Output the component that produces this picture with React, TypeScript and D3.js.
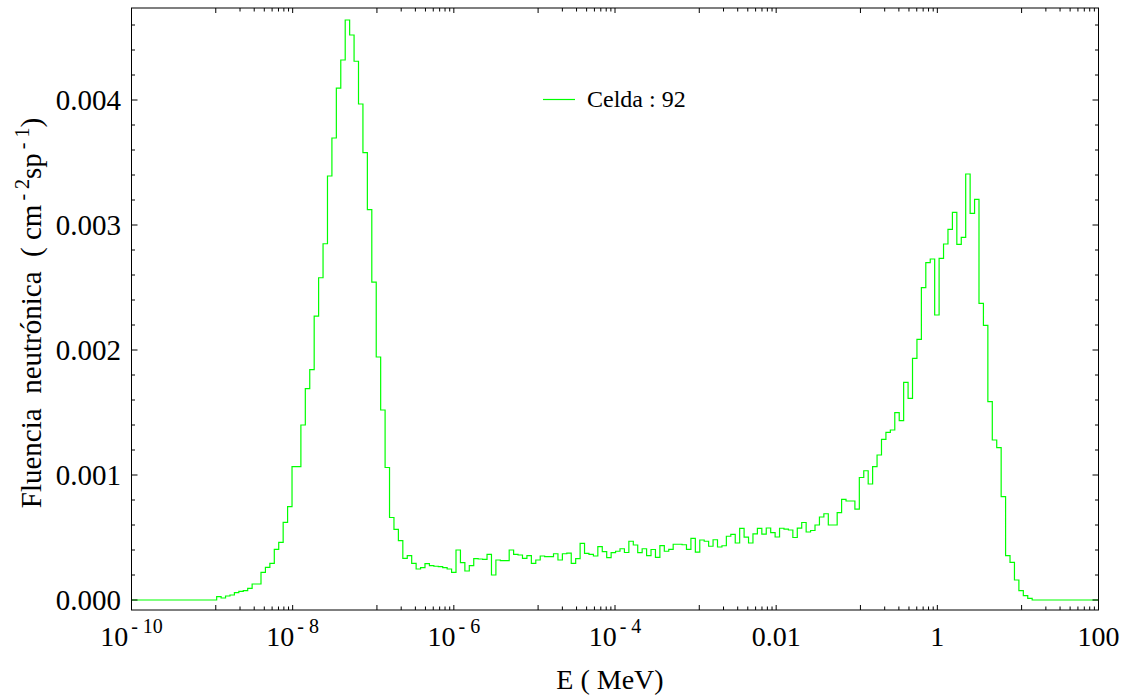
import React from "react";
import * as d3 from "d3";

// ---- data (fluence per energy bin, cm^-2 sp^-1) ----
const thermalPeak = [
  0.000027, 0.000016, 0.000032, 0.00004, 0.000059, 0.000069, 0.000075, 0.000093, 0.000128, 0.000128,
  0.000221, 0.000261, 0.000293, 0.000405, 0.000461, 0.000621, 0.000747, 0.001067, 0.001067, 0.0014,
  0.001691, 0.001843, 0.002271, 0.002578, 0.00285, 0.003392, 0.003696, 0.004095, 0.00432, 0.00464,
  0.00452, 0.00431, 0.003968, 0.003579, 0.003123, 0.002543, 0.001944, 0.00152, 0.00106, 0.00066,
  0.000565, 0.000475, 0.000333, 0.000355, 0.000293, 0.000248,
];
const epithermal = [
  0.000259, 0.000291, 0.000275, 0.00027, 0.000267, 0.000259, 0.000248, 0.000221, 0.0004, 0.000299,
  0.000232, 0.000275, 0.000331, 0.000328, 0.000325, 0.000365, 0.0002, 0.00032, 0.000315, 0.000315,
  0.0004, 0.000365, 0.00036, 0.000333, 0.000355, 0.000293, 0.00032, 0.000352, 0.000347, 0.000347,
  0.00037, 0.00032, 0.00037, 0.000375, 0.000293, 0.000331, 0.000453, 0.000373, 0.000365, 0.000352,
  0.000427, 0.000387, 0.000339, 0.000379, 0.00039, 0.00041, 0.00038, 0.00047, 0.00044, 0.000379,
  0.00041, 0.000355, 0.000404, 0.000341, 0.000435, 0.00039, 0.000405, 0.000446, 0.000446, 0.000442,
  0.000405, 0.000493, 0.000383, 0.00048, 0.00047, 0.00043, 0.000482, 0.000424, 0.000434, 0.00051,
  0.000525, 0.000456, 0.000573, 0.000503, 0.000456, 0.000529, 0.000573, 0.000527, 0.000576, 0.000539,
  0.000504, 0.000574, 0.000567, 0.00056, 0.0005, 0.000575, 0.00062, 0.000544, 0.000556, 0.0006,
];
const fastPeak = [
  0.000664, 0.00069, 0.0006, 0.0006, 0.000699, 0.000805, 0.000792, 0.000792, 0.000727, 0.00098,
  0.001034, 0.000928, 0.001067, 0.00116, 0.001285, 0.001341, 0.00136, 0.001499, 0.001435, 0.001741,
  0.001613, 0.001933, 0.002085, 0.002499, 0.002699, 0.002728, 0.00228, 0.002733, 0.002848, 0.002965,
  0.003101, 0.002845, 0.002901, 0.003408, 0.003093, 0.003205, 0.002373, 0.002197, 0.001587, 0.00128,
  0.001219, 0.000827, 0.000355, 0.000301, 0.00016, 0.000075, 0.000035, 0.000013,
];
const fluence = [...thermalPeak, ...epithermal, ...fastPeak];

// energy grid: equal log-width bins (log10 of first edge, width in decades)
const BIN_LOG_START = -8.943;
const BIN_LOG_WIDTH = 0.055;

const xTickValues = [1e-10, 1e-8, 1e-6, 1e-4, 0.01, 1, 100];
const xTickBase = ["10", "10", "10", "10", "0.01", "1", "100"];
const xTickExp = ["- 10", "- 8", "- 6", "- 4", "", "", ""];
const yTickValues = [0, 0.001, 0.002, 0.003, 0.004];
const yTickLabels = ["0.000", "0.001", "0.002", "0.003", "0.004"];
const legendLabel = "Celda : 92";

const W = 1128;
const H = 698;
const L = 131.5, R = 1098.5, T = 8, B = 610;
const FONT = "'Liberation Serif', 'Times New Roman', serif";
const GREEN = "#00ff00";

export default function App() {
  const x = d3.scaleLog().domain([1e-10, 100]).range([L, R]);
  const y = d3.scaleLinear().domain([-0.00008, 0.004736]).range([B, T]);

  const edges = d3.range(fluence.length + 1).map((i) => Math.pow(10, BIN_LOG_START + i * BIN_LOG_WIDTH));
  const pts: [number, number][] = [
    [1e-10, 0],
    ...fluence.map((v, i) => [edges[i], v] as [number, number]),
    [edges[fluence.length], 0],
    [100, 0],
  ];
  const line = d3
    .line<[number, number]>()
    .x((d) => x(d[0]))
    .y((d) => y(d[1]))
    .curve(d3.curveStepAfter);

  // x ticks: 10^(2n) * k/9
  const xTicks: { v: number; major: boolean }[] = [];
  for (let n = -5; n <= 1; n++) {
    for (let k = 1; k <= 9; k++) {
      const v = Math.pow(10, 2 * n) * (k / 9);
      if (v >= 1e-10 * 0.999 && v <= 100 * 1.001) xTicks.push({ v, major: k === 1 || k === 9 });
    }
  }
  const yTicks = d3.range(0, 0.00471, 0.0002).map((v) => ({ v, major: Math.abs(v / 0.001 - Math.round(v / 0.001)) < 1e-6 }));

  return (
    <svg width={W} height={H} style={{ position: "fixed", left: 0, top: 0, background: "#fff" }} fontFamily={FONT}>
      <rect x={0} y={0} width={W} height={H} fill="#fff" />
      <path d={line(pts) || ""} fill="none" stroke={GREEN} strokeWidth={1.2} />
      <rect x={L} y={T} width={R - L} height={B - T} fill="none" stroke="#000" strokeWidth={1} />
      {xTicks.map((t, i) => {
        const px = x(t.v);
        const len = t.major ? 5 : 3.5;
        return (
          <g key={"xt" + i} stroke="#000" strokeWidth={1}>
            <line x1={px} x2={px} y1={B} y2={B - len} />
            <line x1={px} x2={px} y1={T} y2={T + len} />
          </g>
        );
      })}
      {yTicks.map((t, i) => {
        const py = y(t.v);
        const len = t.major ? 6 : 3.5;
        return (
          <g key={"yt" + i} stroke="#000" strokeWidth={1}>
            <line x1={L} x2={L + len} y1={py} y2={py} />
            <line x1={R} x2={R - len} y1={py} y2={py} />
          </g>
        );
      })}
      {yTickValues.map((v, i) => (
        <text key={"yl" + i} x={121} y={y(v)} dy="0.35em" textAnchor="end" fontSize={29} fill="#000">
          {yTickLabels[i]}
        </text>
      ))}
      {xTickValues.map((v, i) => (
        <text key={"xl" + i} x={x(v)} y={646} textAnchor="middle" fontSize={28} fill="#000">
          <tspan>{xTickBase[i]}</tspan>
          {xTickExp[i] ? (
            <tspan dx={3} dy={-13} fontSize={20}>
              {xTickExp[i]}
            </tspan>
          ) : null}
        </text>
      ))}
      <text x={610} y={689} textAnchor="middle" fontSize={28} fill="#000" xmlSpace="preserve">
        {"E ( MeV)"}
      </text>
      <text transform="translate(41,313) rotate(-90)" textAnchor="middle" fontSize={29} fill="#000" xmlSpace="preserve">
        <tspan>{"Fluencia  neutrónica  ( cm"}</tspan>
        <tspan dx={4} dy={-12} fontSize={20}>{"- 2"}</tspan>
        <tspan dy={12}>{"sp"}</tspan>
        <tspan dx={4} dy={-12} fontSize={20}>{"- 1"}</tspan>
        <tspan dy={12}>{")"}</tspan>
      </text>
      <line x1={543} x2={575} y1={99.5} y2={99.5} stroke={GREEN} strokeWidth={1.2} />
      <text x={587} y={107} fontSize={24} fill="#000">
        {legendLabel}
      </text>
    </svg>
  );
}
